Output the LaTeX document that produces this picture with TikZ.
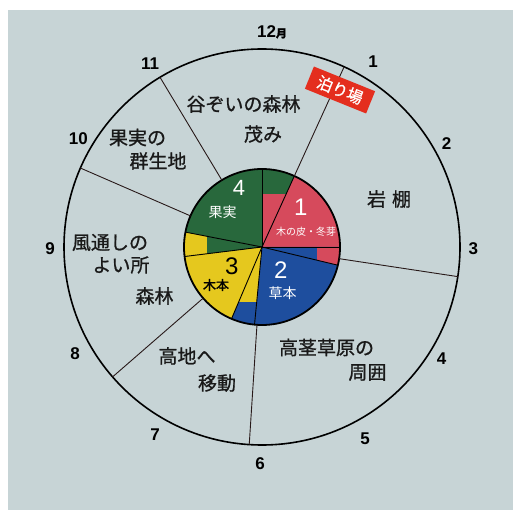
\documentclass[tikz,border=0pt]{standalone}
\usepackage{fontspec}
\usetikzlibrary{calc}
\newfontfamily\jp{Noto Sans CJK JP}
\newfontfamily\jpm{Noto Sans CJK JP}[FakeBold=0.9]
\newfontfamily\jpb{Noto Sans CJK JP}[FakeBold=1.5]
\newfontfamily\num{Liberation Sans}
\definecolor{bgc}{RGB}{199,212,214}
\definecolor{pgreen}{RGB}{40,104,60}
\definecolor{pred}{RGB}{214,74,92}
\definecolor{pblue}{RGB}{30,78,158}
\definecolor{pyellow}{RGB}{229,200,30}
\definecolor{boxred}{RGB}{228,46,30}
\definecolor{linec}{RGB}{40,25,25}
\tikzset{
  pline/.style={draw=black,line width=0.9pt},
  oline/.style={draw=linec,line width=0.9pt},
  month/.style={font=\num\bfseries\fontsize{17}{17}\selectfont,inner sep=0pt},
  place/.style={font=\jpm\fontsize{19}{19}\selectfont,inner sep=0pt,text=black!90},
  pietxt/.style={inner sep=0pt},
}
\begin{document}
\begin{tikzpicture}[x=1pt,y=1pt]
\useasboundingbox (0,0) rectangle (513,-510);
\fill[white] (0,0) rectangle (513,-510);
\fill[bgc] (8,-10) rectangle (513,-510);
\coordinate (c) at (262,-247);
\def\R{78}
% main sectors
\fill[pred] (c) -- ++(0:\R) arc[start angle=0,end angle=65.5,radius=\R] -- cycle;
\fill[pblue] (c) -- ++(264.5:\R) arc[start angle=264.5,end angle=346.5,radius=\R] -- cycle;
\fill[pyellow] (c) -- ++(187:\R) arc[start angle=187,end angle=247,radius=\R] -- cycle;
\fill[pgreen] (c) -- ++(90:\R) arc[start angle=90,end angle=169,radius=\R] -- cycle;
% transitional wedges
\begin{scope}
\clip (c) -- ++(65.5:\R) arc[start angle=65.5,end angle=90,radius=\R] -- cycle;
\fill[pred] (c) circle[radius=\R];
\fill[pgreen] ($(c)+(-90,53)$) rectangle ($(c)+(90,90)$);
\end{scope}
\begin{scope}
\clip (c) -- ++(346.5:\R) arc[start angle=346.5,end angle=360,radius=\R] -- cycle;
\fill[pblue] (c) circle[radius=\R];
\fill[pred] ($(c)+(55,-90)$) rectangle ($(c)+(90,90)$);
\end{scope}
\begin{scope}
\clip (c) -- ++(247:\R) arc[start angle=247,end angle=264.5,radius=\R] -- cycle;
\fill[pyellow] (c) circle[radius=\R];
\fill[pblue] ($(c)+(-90,-55)$) rectangle ($(c)+(90,-90)$);
\end{scope}
\begin{scope}
\clip (c) -- ++(169:\R) arc[start angle=169,end angle=187,radius=\R] -- cycle;
\fill[pgreen] (c) circle[radius=\R];
\fill[pyellow] ($(c)+(-90,-90)$) rectangle ($(c)+(-55,90)$);
\end{scope}
% pie lines
\foreach \a in {90,65.5,0,346.5,264.5,247,187,169}
  \draw[pline] (c) -- ++(\a:\R);
\draw[line width=1.8pt] (c) circle[radius=\R];
% outer ring
\draw[line width=1.6pt] (c) circle[radius=198];
\foreach \a in {65.5,121,156.5,221,266.3,351.4}
  \draw[oline] ($(c)+(\a:\R)$) -- ($(c)+(\a:198)$);
% month labels
\node[month] (m12) at (272,-32) {12{\jpb\fontsize{11}{11}\selectfont 月}};
\node[month] (m1) at (373,-62) {1};
\node[month] (m2) at (446.7,-143.3) {2};
\node[month] (m3) at (473.3,-248.3) {3};
\node[month] (m4) at (441.7,-358.3) {4};
\node[month] (m5) at (365,-438.3) {5};
\node[month] (m6) at (260,-463.3) {6};
\node[month] (m7) at (155,-435) {7};
\node[month] (m8) at (75,-353.3) {8};
\node[month] (m9) at (50,-248.3) {9};
\node[month] (m10) at (78.3,-138.3) {10};
\node[month] (m11) at (150,-63.3) {11};
% place labels
\node[place] (t1) at (243.5,-104) {谷ぞいの森林};
\node[place] (t2) at (263,-134) {茂み};
\node[place] (t3) at (137.5,-137.5) {果実の};
\node[place] (t4) at (158,-161) {群生地};
\node[place] (t5) at (110,-242.5) {風通しの};
\node[place] (t6) at (121,-265) {よい所};
\node[place] (t7) at (154.5,-296) {森林};
\node[place] (t8) at (187,-356) {高地へ};
\node[place] (t9) at (217,-383) {移動};
\node[place] (t10) at (326.5,-347.5) {高茎草原の};
\node[place] (t11) at (367.5,-372.5) {周囲};
\node[place] (t12) at (389,-199) {岩\hspace{6pt}棚};
\node[fill=boxred,rotate=-22,minimum width=66,minimum height=24,inner sep=0pt,text=white,font=\jpm\fontsize{16}{16}\selectfont] (tomari) at (340,-90) {泊り場};
% pie labels
\node[pietxt,text=white,font=\num\fontsize{24}{24}\selectfont] (p1) at (300.7,-207.3) {1};
\node[pietxt,text=white,font=\jp\fontsize{10}{10}\selectfont] (p1t) at (306,-231.5) {木の皮・冬芽};
\node[pietxt,text=white,font=\num\fontsize{24}{24}\selectfont] (p2) at (280.7,-270) {2};
\node[pietxt,text=white,font=\jp\fontsize{14}{14}\selectfont] (p2t) at (282.5,-293.5) {草本};
\node[pietxt,text=black,font=\num\fontsize{24}{24}\selectfont] (p3) at (231.7,-266.7) {3};
\node[pietxt,text=black,font=\jpb\fontsize{13}{13}\selectfont] (p3t) at (216,-285) {木本};
\node[pietxt,text=white,font=\num\fontsize{22}{22}\selectfont] (p4) at (239,-188.3) {4};
\node[pietxt,text=white,font=\jp\fontsize{14}{14}\selectfont] (p4t) at (222.5,-212.5) {果実};
\end{tikzpicture}
\end{document}
